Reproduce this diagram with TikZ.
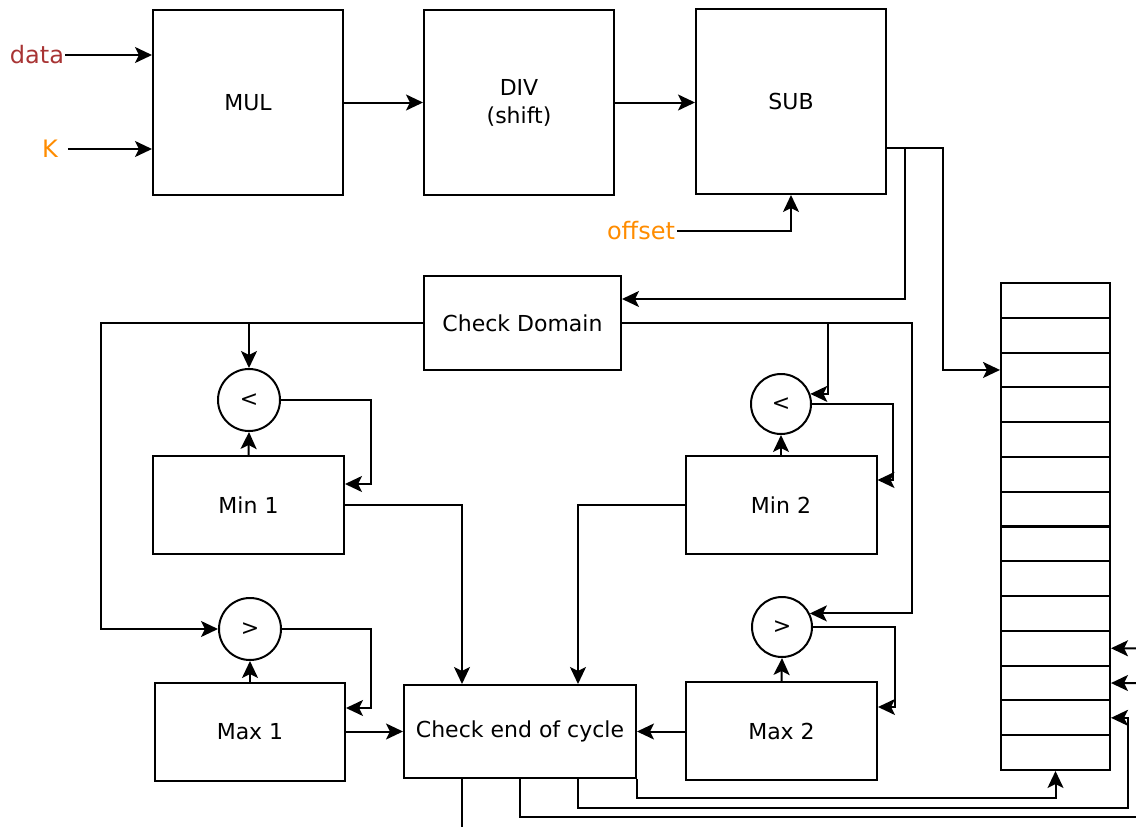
\documentclass[tikz,border=0pt]{standalone}
\usepackage{fontspec}
\setmainfont{DejaVu Sans}
\usetikzlibrary{arrows.meta,calc}
\definecolor{datared}{RGB}{168,52,52}
\definecolor{inorange}{RGB}{255,140,0}
\begin{document}
\begin{tikzpicture}[x=1pt,y=-1pt,
  line width=2pt,
  arr/.style={-{Stealth[length=17pt,width=16pt,inset=4pt]}},
  blk/.style={draw,rectangle,inner sep=0pt,align=center,font=\fontsize{22}{28}\selectfont},
  cmp/.style={draw,circle,inner sep=0pt,minimum size=#1,font=\fontsize{22}{26}\selectfont},
  inlbl/.style={inner sep=0pt,font=\fontsize{24}{28}\selectfont},
  cell/.style={draw,rectangle,inner sep=0pt,minimum width=109pt,minimum height=34.8pt}]
\useasboundingbox (0,0) rectangle (1136,827);

% arithmetic chain
\node[blk,minimum width=190pt,minimum height=185pt] (mul) at (248,102.5) {MUL};
\node[blk,minimum width=190pt,minimum height=185pt] (div) at (519,102.5) {DIV\\(shift)};
\node[blk,minimum width=190pt,minimum height=185pt] (sub) at (791,101.5) {SUB};

% inputs
\node[inlbl,text=datared] (data) at (37,55) {data};
\node[inlbl,text=inorange] (k) at (50,149) {K};
\node[inlbl,text=inorange] (offset) at (641,231) {offset};

% control blocks
\node[blk,minimum width=197pt,minimum height=94pt] (chkdom) at (522.5,323) {Check Domain};
\node[blk,minimum width=191pt,minimum height=98pt] (min1) at (248.5,505) {Min 1};
\node[blk,minimum width=190pt,minimum height=98pt] (max1) at (250,732) {Max 1};
\node[blk,minimum width=232pt,minimum height=93pt] (chkend) at (520,731.5) {Check end of cycle};
\node[blk,minimum width=191pt,minimum height=98pt] (min2) at (781,505) {Min 2};
\node[blk,minimum width=191pt,minimum height=98pt] (max2) at (781.5,731) {Max 2};

% comparators
\node[cmp=62pt] (lt1) at (249,400) {<};
\node[cmp=62pt] (gt1) at (250,629) {>};
\node[cmp=60pt] (lt2) at (781,404) {<};
\node[cmp=60pt] (gt2) at (782,627) {>};

% register file
\foreach \i in {1,...,14}
  \node[cell] (r\i) at (1055.5,{283+(\i-0.5)*34.786}) {};

% turning points and free ends
\coordinate (subtap) at (886,148);
\coordinate (memx) at (943,0);
\coordinate (domx) at (905,0);
\coordinate (leftbus) at (101,323);
\coordinate (rightbus) at (912,323);
\coordinate (tap2) at (828,323);
\coordinate (fbl1) at (371,484);
\coordinate (fbg1) at (371,708);
\coordinate (fbl2) at (893,480);
\coordinate (fbg2) at (895,707);
\coordinate (loopx) at (1128,0);
\coordinate (outA) at (462,827);
\coordinate (outB) at (1136,817);
\coordinate (inA) at (1136,648.3);
\coordinate (inB) at (1136,683);

% data path
\draw[arr] (data.east) -- (data.east -| mul.west);
\draw[arr] ([xshift=9pt]k.east) -- (k.east -| mul.west);
\draw[arr] (mul.east) -- (div.west);
\draw[arr] (div.east) -- (div.east -| sub.west);
\draw[arr] ([xshift=1pt]offset.east) -| (sub.south);
\draw[arr] (subtap) -| (memx |- r3.west) -- (r3.west);
\draw[arr] (domx |- subtap) |- ([yshift=24pt]chkdom.east);

% domain check fan-out
\draw[arr] (chkdom.west) -- (leftbus) |- (gt1.west);
\draw[arr] (lt1.north |- leftbus) -- (lt1.north);
\draw[arr] (chkdom.east) -| (rightbus |- gt2.26) -- (gt2.26);
\draw[arr] (tap2) |- (lt2.19.5);

% min / max loops
\draw[arr] (lt1.east) -| (fbl1) -- (fbl1 -| min1.east);
\draw[arr] (min1.north) -- (lt1.south);
\draw[arr] (gt1.east) -| (fbg1) -- (fbg1 -| max1.east);
\draw[arr] (max1.north) -- (gt1.south);
\draw[arr] (lt2.east) -| (fbl2) -- (fbl2 -| min2.east);
\draw[arr] (min2.north) -- (lt2.south);
\draw[arr] (gt2.east) -| (fbg2) -- (fbg2 -| max2.east);
\draw[arr] (max2.north) -- (gt2.south);

% into end-of-cycle check
\draw[arr] (min1.east) -| ([xshift=-58pt]chkend.north);
\draw[arr] (min2.west) -| ([xshift=58pt]chkend.north);
\draw[arr] (max1.east |- chkend.west) -- (chkend.west);
\draw[arr] (max2.west |- chkend.east) -- (chkend.east);

% end-of-cycle outputs
\draw ([xshift=-58pt]chkend.south) -- (outA);
\draw (chkend.south) |- (outB);
\draw[arr] ([xshift=58pt]chkend.south) |- (loopx |- 0,808) |- (r13.east);
\draw[arr] (chkend.south east) |- (r14.south |- 0,798) -- (r14.south);
\draw[arr] (inA) -- (r11.east);
\draw[arr] (inB) -- (r12.east);
\end{tikzpicture}
\end{document}
